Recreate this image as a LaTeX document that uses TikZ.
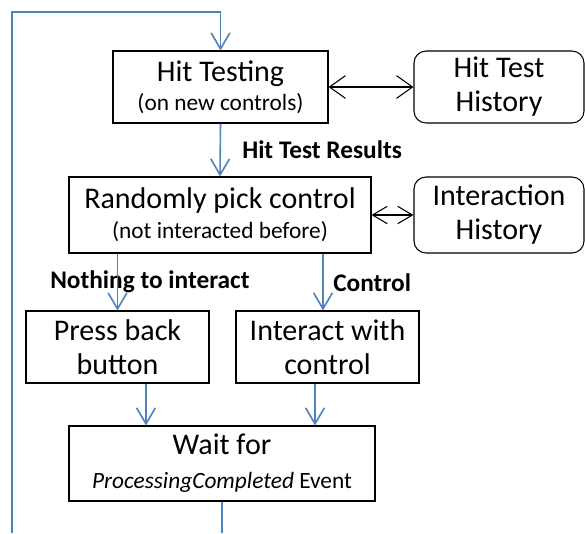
\documentclass[tikz,border=0pt]{standalone}
\usepackage{fontspec}
\setmainfont{Carlito}
\usetikzlibrary{arrows.meta,calc}
\definecolor{flowblue}{RGB}{79,129,189}
\newcommand{\subfont}{\fontsize{17.5}{20}\selectfont}
\tikzset{
  box/.style={draw=black, line width=0.8pt, rectangle, align=center, inner sep=0pt, font=\fontsize{22.5}{25.5}\selectfont},
  hist/.style={box, rounded corners=9pt},
  flow/.style={draw=flowblue, line width=1.2pt, -{Straight Barb[length=12pt,width=14pt,line width=1.2pt]}},
  loopline/.style={draw=flowblue, line width=1.2pt},
  both/.style={draw=black, line width=0.8pt, {Straight Barb[length=12pt,width=17pt]}-{Straight Barb[length=12pt,width=17pt]}},
  bothsmall/.style={draw=black, line width=0.8pt, {Straight Barb[length=11pt,width=13pt]}-{Straight Barb[length=11pt,width=13pt]}},
  lbl/.style={font=\fontsize{19}{21}\selectfont\bfseries, inner sep=0pt}
}
\begin{document}
\begin{tikzpicture}[x=0.75pt,y=-0.75pt]
\useasboundingbox (0,0) rectangle (585,533);
\node[box, minimum width=215*0.75pt, minimum height=72*0.75pt] (ht) at (220.5,87)
  {Hit Testing\\[-4pt]{\subfont (on new controls)}};
\node[hist, minimum width=170*0.75pt, minimum height=72*0.75pt] (hth) at (499,87)
  {Hit Test\\History};
\node[box, minimum width=302*0.75pt, minimum height=76*0.75pt] (rp) at (220,215)
  {Randomly pick control\\[-3pt]{\subfont (not interacted before)}};
\node[hist, minimum width=170*0.75pt, minimum height=76*0.75pt] (ih) at (499,215)
  {Interaction\\History};
\node[box, minimum width=183*0.75pt, minimum height=72*0.75pt] (pb) at (117.5,347)
  {Press back\\button};
\node[box, minimum width=183*0.75pt, minimum height=72*0.75pt] (ic) at (327.5,347)
  {Interact with\\control};
\node[box, minimum width=306*0.75pt, minimum height=75*0.75pt] (wt) at (222,463.5)
  {Wait for\\[0pt]{\subfont\itshape ProcessingCompleted\upshape\ Event}};

\node[lbl, anchor=west] (l1) at (242,150) {Hit Test Results};
\node[lbl, anchor=west] (l2) at (50,282) {Nothing to interact};
\node[lbl, anchor=west] (l3) at (333,283) {Control};

\coordinate (bot) at (222,533);
\coordinate (botl) at (12,533);
\coordinate (topl) at (12,12);
\coordinate (ctop) at ($(ic.north)+(-4.5,0)$);
\coordinate (pbo) at ($(pb.south)+(28.5,0)$);
\coordinate (ico) at ($(ic.south)+(-12.5,0)$);

\draw[both] (ht.east) -- (hth.west);
\draw[bothsmall] (rp.east) -- (ih.west);
\draw[flow] (ht.south) -- (rp.north);
\draw[flow] (rp.south -| pb.north) -- (pb.north);
\draw[flow] (rp.south -| ctop) -- (ctop);
\draw[flow] (pbo) -- (pbo |- wt.north);
\draw[flow] (ico) -- (ico |- wt.north);
\draw[loopline] (wt.south) -- (bot);
\draw[flow] (botl) -- (topl) -| (ht.north);
\end{tikzpicture}
\end{document}
